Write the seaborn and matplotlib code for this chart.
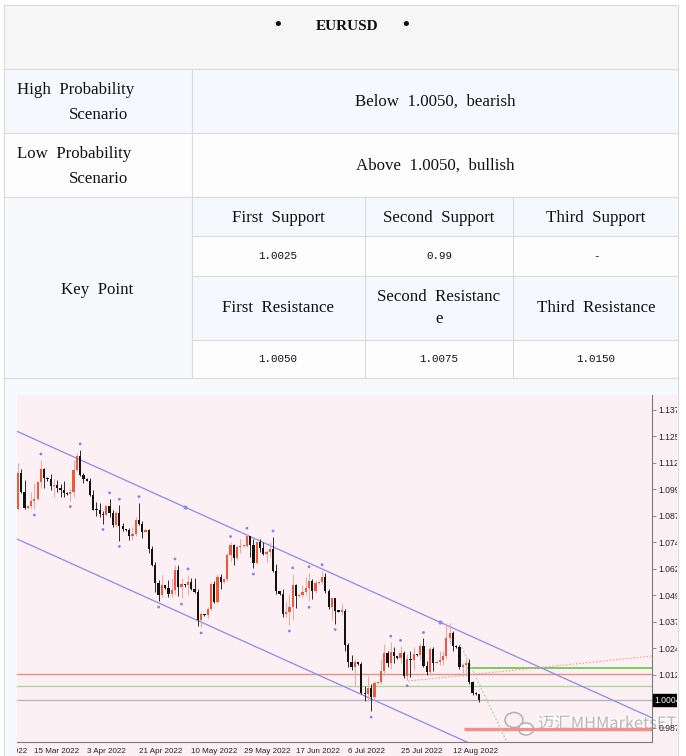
import numpy as np
import pandas as pd
import matplotlib
matplotlib.use("Agg")
import matplotlib.pyplot as plt
import matplotlib.patches as mpatches
import matplotlib.patheffects as pe
from matplotlib.transforms import Bbox, TransformedBbox, offset_copy
import seaborn as sns

# ---- table text ----
title = "EURUSD"
high_label = ["High  Probability", "Scenario"]
low_label = ["Low  Probability", "Scenario"]
high_text = "Below  1.0050,  bearish"
low_text = "Above  1.0050,  bullish"
support_names = ["First  Support", "Second  Support", "Third  Support"]
support_vals = ["1.0025", "0.99", "-"]
resist_names = ["First  Resistance", "Second  Resistanc\ne", "Third  Resistance"]
resist_vals = ["1.0050", "1.0075", "1.0150"]

# ---- daily EURUSD bars (incl. sunday bars), 9 Mar 2022 .. 22 Aug 2022 ----
first_open = 1.0905
closes = [1.1075, 1.0985, 1.0912, 1.0918, 1.0942, 1.0955, 1.1035, 1.1093, 1.1050,
          1.1045, 1.1016, 1.1020, 1.1004, 1.0997, 1.0983,
          1.0978, 1.0985, 1.1088, 1.1158, 1.1067, 1.1046,
          1.1040, 1.0972, 1.0903, 1.0899, 1.0880, 1.0876,
          1.0920, 1.0888, 1.0830, 1.0888, 1.0826, 1.0810,
          1.0805, 1.0780, 1.0786, 1.0852, 1.0835, 1.0795,
          1.0805, 1.0715, 1.0640, 1.0557, 1.0498, 1.0545,
          1.0535, 1.0505, 1.0525, 1.0620, 1.0540, 1.0550,
          1.0545, 1.0560, 1.0530, 1.0515, 1.0380, 1.0410,
          1.0405, 1.0435, 1.0550, 1.0465, 1.0585, 1.0560,
          1.0575, 1.0690, 1.0735, 1.0675, 1.0725, 1.0730,
          1.0732, 1.0780, 1.0735, 1.0650, 1.0750, 1.0720,
          1.0695, 1.0705, 1.0715, 1.0615, 1.0520,
          1.0505, 1.0410, 1.0420, 1.0445, 1.0545, 1.0495,
          1.0500, 1.0515, 1.0535, 1.0565, 1.0520, 1.0555,
          1.0560, 1.0585, 1.0520, 1.0445, 1.0485, 1.0425,
          1.0422, 1.0425, 1.0265, 1.0185, 1.0160, 1.0185,
          1.0175, 1.0040, 1.0035, 1.0060, 1.0020, 1.0085,
          1.0090, 1.0140, 1.0225, 1.0180, 1.0230, 1.0210,
          1.0205, 1.0225, 1.0120, 1.0200, 1.0195, 1.0220,
          1.0215, 1.0260, 1.0165, 1.0135, 1.0245, 1.0180,
          1.0185, 1.0195, 1.0210, 1.0298, 1.0320, 1.0260,
          1.0255, 1.0160, 1.0170, 1.0180, 1.0090, 1.0040,
          1.0035, 1.0004]
highs = [1.1121, 1.1095, 1.1044, 1.0925, 1.0985, 1.1030, 1.1040, 1.1137, 1.1100,
         1.1055, 1.1070, 1.1045, 1.1043, 1.1024, 1.1037,
         1.0988, 1.0998, 1.1137, 1.1170, 1.1185, 1.1076,
         1.1050, 1.1053, 1.0995, 1.0940, 1.0935, 1.0895,
         1.0925, 1.0954, 1.0902, 1.0895, 1.0924, 1.0840,
         1.0812, 1.0815, 1.0820, 1.0870, 1.0936, 1.0850,
         1.0812, 1.0810, 1.0730, 1.0655, 1.0570, 1.0592,
         1.0548, 1.0570, 1.0580, 1.0642, 1.0641, 1.0580,
         1.0552, 1.0595, 1.0580, 1.0578, 1.0530, 1.0420,
         1.0412, 1.0445, 1.0560, 1.0565, 1.0600, 1.0600,
         1.0580, 1.0696, 1.0748, 1.0740, 1.0735, 1.0765,
         1.0738, 1.0787, 1.0780, 1.0765, 1.0750, 1.0764,
         1.0750, 1.0710, 1.0750, 1.0774, 1.0645,
         1.0520, 1.0530, 1.0470, 1.0505, 1.0600, 1.0550,
         1.0505, 1.0545, 1.0583, 1.0605, 1.0575, 1.0570,
         1.0565, 1.0615, 1.0606, 1.0530, 1.0485, 1.0485,
         1.0430, 1.0463, 1.0435, 1.0275, 1.0215, 1.0200,
         1.0185, 1.0185, 1.0070, 1.0120, 1.0080, 1.0096,
         1.0095, 1.0200, 1.0270, 1.0235, 1.0278, 1.0257,
         1.0212, 1.0258, 1.0235, 1.0220, 1.0235, 1.0255,
         1.0222, 1.0275, 1.0295, 1.0190, 1.0255, 1.0255,
         1.0190, 1.0235, 1.0235, 1.0368, 1.0368, 1.0330,
         1.0262, 1.0265, 1.0180, 1.0200, 1.0200, 1.0095,
         1.0042, 1.0035]
lows = [1.0900, 1.0980, 1.0905, 1.0908, 1.0910, 1.0905, 1.0950, 1.1005, 1.1005,
        1.1040, 1.0995, 1.0963, 1.0985, 1.0963, 1.0960,
        1.0972, 1.0945, 1.0960, 1.1085, 1.1060, 1.1028,
        1.1036, 1.0965, 1.0901, 1.0873, 1.0870, 1.0837,
        1.0876, 1.0870, 1.0821, 1.0820, 1.0757, 1.0800,
        1.0800, 1.0760, 1.0760, 1.0780, 1.0830, 1.0770,
        1.0795, 1.0697, 1.0635, 1.0515, 1.0471, 1.0490,
        1.0530, 1.0490, 1.0492, 1.0505, 1.0493, 1.0485,
        1.0540, 1.0500, 1.0525, 1.0510, 1.0354, 1.0349,
        1.0400, 1.0390, 1.0430, 1.0460, 1.0460, 1.0530,
        1.0558, 1.0565, 1.0660, 1.0640, 1.0665, 1.0700,
        1.0726, 1.0725, 1.0680, 1.0627, 1.0645, 1.0703,
        1.0690, 1.0655, 1.0680, 1.0610, 1.0505,
        1.0500, 1.0398, 1.0395, 1.0358, 1.0380, 1.0440,
        1.0490, 1.0490, 1.0500, 1.0470, 1.0480, 1.0510,
        1.0552, 1.0550, 1.0510, 1.0435, 1.0382, 1.0365,
        1.0418, 1.0405, 1.0235, 1.0162, 1.0145, 1.0070,
        1.0170, 1.0035, 0.9999, 0.9998, 0.9952, 1.0005,
        1.0082, 1.0080, 1.0125, 1.0160, 1.0150, 1.0180,
        1.0200, 1.0180, 1.0110, 1.0100, 1.0115, 1.0145,
        1.0210, 1.0195, 1.0160, 1.0125, 1.0125, 1.0140,
        1.0178, 1.0170, 1.0170, 1.0200, 1.0270, 1.0235,
        1.0250, 1.0150, 1.0120, 1.0120, 1.0080, 1.0030,
        1.0030, 0.9995]
dates = pd.date_range("2022-03-09", "2022-08-22")
dates = dates[(dates.dayofweek != 5) & (dates != "2022-06-05")]
first_date_label = "24 Feb 2022"

# ---- chart objects (price levels / trend lines) ----
price_ticks = [1.1374, 1.1250, 1.1124, 1.0999, 1.0874, 1.0749, 1.0624,
               1.0499, 1.0374, 1.0249, 1.0124, 0.9874]
red_level = 1.0127
green_level_thin = 1.0069
green_level_thick = 1.0154
target_level = 0.9868
channel_upper = [(51, 1.0915), (129, 1.0372)]
channel_width = 0.0508
pink_ray = [(119.3, 1.0094), (193.9, 1.0212)]
green_ray = [(135.2, 1.0269), (149.5, 0.9807)]
watermark = "迈汇MHMarketsETA"

sns.set_style("white")
plt.rcParams["font.family"] = ["Liberation Sans", "Noto Sans CJK SC", "DejaVu Sans"]

W, H = 686, 756
fig = plt.figure(figsize=(W / 100, H / 100), dpi=100)
fig.patch.set_facecolor("white")

# ---------------- table (pixel coordinates) ----------------
tab = fig.add_axes([0, 0, 1, 1])
tab.set_xlim(0, W)
tab.set_ylim(H, 0)
tab.axis("off")

L, R = 4, 678
c1, c2, c3 = 192, 365, 513
blue_bg = "#f5f8fd"
white_bg = "#fdfdfd"
grid = "#dadada"


def cell(x0, y0, x1, y1, fc):
    tab.add_patch(mpatches.Rectangle((x0, y0), x1 - x0, y1 - y0, fc=fc, ec="none", zorder=0))


cell(L, 5, R, 69, "#f6f6f6")
cell(L, 69, R, 133, blue_bg)
cell(L, 133, R, 197, white_bg)
cell(L, 197, c1, 378, "#f7f9fd")
cell(c1, 197, R, 236, blue_bg)
cell(c1, 236, R, 276, white_bg)
cell(c1, 276, R, 340, blue_bg)
cell(c1, 340, R, 378, white_bg)
cell(L, 378, R, H, "#f6f9fe")
# chart picture background
cell(17, 395, 677, H, "#fcf0f4")

for y in [5, 69, 133, 197, 378]:
    tab.plot([L, R], [y, y], color=grid, lw=0.8, zorder=1)
for y in [236, 276, 340]:
    tab.plot([c1, R], [y, y], color=grid, lw=0.8, zorder=1)
tab.plot([L, L], [5, H], color=grid, lw=0.8, zorder=1)
tab.plot([R, R], [5, H], color=grid, lw=0.8, zorder=1)
tab.plot([c1, c1], [69, 378], color=grid, lw=0.8, zorder=1)
for x in [c2, c3]:
    tab.plot([x, x], [197, 378], color=grid, lw=0.8, zorder=1)

serif = "Liberation Serif"
fs = 12.2
tab.text(347, 26, title, ha="center", va="center", family=serif, weight="bold",
         fontsize=11, color="#111")
for x in [278, 406]:
    tab.text(x, 25, "•", ha="center", va="center", family=serif, weight="bold",
             fontsize=14, color="#111")

tab.text(17, 90, high_label[0], ha="left", va="center", family=serif, fontsize=fs, color="#111")
tab.text(69, 115, high_label[1], ha="left", va="center", family=serif, fontsize=fs, color="#111")
tab.text(17, 154, low_label[0], ha="left", va="center", family=serif, fontsize=fs, color="#111")
tab.text(69, 179, low_label[1], ha="left", va="center", family=serif, fontsize=fs, color="#111")
tab.text(435, 102, high_text, ha="center", va="center", family=serif, fontsize=fs, color="#111")
tab.text(435, 166, low_text, ha="center", va="center", family=serif, fontsize=fs, color="#111")
tab.text(97, 290, "Key  Point", ha="center", va="center", family=serif, fontsize=fs, color="#111")

col_x = [278, 439, 596]
for x, s in zip(col_x, support_names):
    tab.text(x, 218, s, ha="center", va="center", family=serif, fontsize=fs, color="#111")
for x, s in zip(col_x, support_vals):
    tab.text(x, 256, s, ha="center", va="center", family="Liberation Mono", fontsize=7.8, color="#111")
for x, s in zip(col_x, resist_names):
    tab.text(x, 308, s, ha="center", va="center", family=serif, fontsize=fs, color="#111",
             linespacing=1.55)
for x, s in zip(col_x, resist_vals):
    tab.text(x, 359, s, ha="center", va="center", family="Liberation Mono", fontsize=7.8, color="#111")

# ---------------- candle chart ----------------
px = 3.27  # pixels per bar
x0_px = 18
ax_l, ax_r, ax_t, ax_b = 17, 652, 395, 742
ax = fig.add_axes([ax_l / W, 1 - ax_b / H, (ax_r - ax_l) / W, (ax_b - ax_t) / H])
ax.set_facecolor("none")
xmin = (ax_l - x0_px) / px
xmax = xmin + (ax_r - ax_l) / px
ymin = 1.0 - (ax_b - 701) / 2120
ymax = 1.0 + (701 - ax_t) / 2120

clip = TransformedBbox(Bbox([[17 / W, 0], [677 / W, 1 - 395 / H]]), fig.transFigure)

n = len(closes)
idx = np.arange(n)
c = np.array(closes)
o = np.concatenate([[first_open], c[:-1]])
h = np.array(highs)
lo = np.array(lows)
bull = c >= o

# levels and trend lines (behind candles)
ax.axhline(red_level, color="#f08c84", lw=1.0, zorder=1)
ax.axhline(green_level_thin, color="#9ddc8a", lw=0.9, zorder=1)
ax.axhline(closes[-1], color="#b4b4b8", lw=0.9, zorder=1)
ax.plot([136.4, xmax], [target_level] * 2, color="#f0908a", lw=2.4, zorder=1,
        solid_capstyle="butt")
ax.plot([137.6, xmax], [green_level_thick] * 2, color="#6ccc48", lw=1.3, zorder=1)

(ux1, uy1), (ux2, uy2) = channel_upper
slope = (uy2 - uy1) / (ux2 - ux1)
xs = np.array([xmin, xmax])
ax.plot(xs, uy1 + slope * (xs - ux1), color="#8a8af0", lw=0.9, zorder=1)
ax.plot(xs, uy1 + slope * (xs - ux1) - channel_width, color="#8a8af0", lw=0.9, zorder=1)
ax.plot([ux1, ux2], [uy1, uy2], "o", ms=2, color="#8a8af0", zorder=1)

(px1, py1), (px2, py2) = pink_ray
ax.plot([px1, px2], [py1, py2], color="#f0a0a0", lw=0.9, ls=(0, (1.2, 1.5)), zorder=1)
(gx1, gx2), (gy1, gy2) = zip(*green_ray)
ax.plot([gx1, gx2], [gy1, gy2], color="#a6d89c", lw=0.9, ls=(0, (1.5, 1.5)), zorder=1)

# candles
wick_col = np.where(bull, "#f5a49c", "#2a2a2a")
body_col = np.where(bull, "#f0583a", "#111111")
ax.vlines(idx, lo, h, colors=wick_col, lw=0.7, zorder=3)
body_low = np.minimum(o, c)
body_h = np.maximum(np.abs(c - o), 0.0005)
ax.bar(idx, body_h, bottom=body_low, width=0.68, color=body_col, linewidth=0, zorder=4)

# fractal dots
up = [i for i in range(2, n - 2) if h[i] > max(h[i - 2], h[i - 1], h[i + 1], h[i + 2])]
dn = [i for i in range(2, n - 2) if lo[i] < min(lo[i - 2], lo[i - 1], lo[i + 1], lo[i + 2])]
frac = pd.DataFrame({"bar": up + dn,
                     "price": list(h[up] + 0.0028) + list(lo[dn] - 0.0028)})
sns.scatterplot(data=frac, x="bar", y="price", ax=ax, s=4, color="#8080ee",
                edgecolor="none", zorder=5, legend=False)

# axes styling
for side in ["left", "top"]:
    ax.spines[side].set_visible(False)
for side in ["right", "bottom"]:
    ax.spines[side].set_color("#7a7a7a")
    ax.spines[side].set_linewidth(0.8)

ax.yaxis.tick_right()
ax.set_yticks(price_ticks)
ax.set_yticklabels([f"{v:.4f}" for v in price_ticks])
tick_pos = list(range(5, n, 16))
tick_lab = [f"{dates[i].day} {dates[i]:%b %Y}" for i in tick_pos]
ax.set_xticks(tick_pos)
ax.set_xticklabels(tick_lab)
ax.tick_params(axis="both", length=3, width=0.6, color="#7a7a7a",
               labelcolor="#222", pad=1.5)
ax.tick_params(axis="x", labelsize=5.8)
ax.tick_params(axis="y", right=True, left=False, labelright=True, labelleft=False,
               labelsize=6.2)
for lab in ax.get_xticklabels():
    lab.set_ha("left")
for lab in ax.get_yticklabels():
    lab.set_clip_box(clip)
    lab.set_clip_on(True)
ax.set_xlabel("")
ax.set_ylabel("")
# limits last: set_xticks would widen the view otherwise
ax.set_xlim(xmin, xmax)
ax.set_ylim(ymin, ymax)

# date label of the bar 16 before the first labelled one, cut by the picture edge
prev_lab = ax.text(5 - 16, 0, first_date_label, ha="left", va="top", fontsize=5.8, color="#222",
                   transform=offset_copy(ax.get_xaxis_transform(), fig=fig, y=-4.5, units="points"))
prev_lab.set_clip_box(clip)
prev_lab.set_clip_on(True)

# current price box
cur = ax.text(1.004, closes[-1], f"{closes[-1]:.4f}", transform=ax.get_yaxis_transform(),
              ha="left", va="center", fontsize=6.2, color="white",
              bbox=dict(boxstyle="square,pad=0.2", fc="black", ec="black"), zorder=6)
cur.set_clip_box(clip)
cur.set_clip_on(True)

# watermark
wm = tab.text(538, 724, watermark, ha="left", va="center", fontsize=11.8,
              family=["Noto Sans CJK SC", "DejaVu Sans"], color="#a8a8a8", alpha=0.75,
              zorder=10, path_effects=[pe.withStroke(linewidth=2, foreground="white")])
wm.set_clip_box(clip)
wm.set_clip_on(True)
tab.add_patch(mpatches.Ellipse((514, 720), 18, 15, fc="none", ec="#b0b0b0", lw=1.1, zorder=10))
tab.add_patch(mpatches.Ellipse((526, 729), 15, 12, fc="white", ec="#b0b0b0", lw=1.1, zorder=10))

fig.savefig("out.png", dpi=100)
